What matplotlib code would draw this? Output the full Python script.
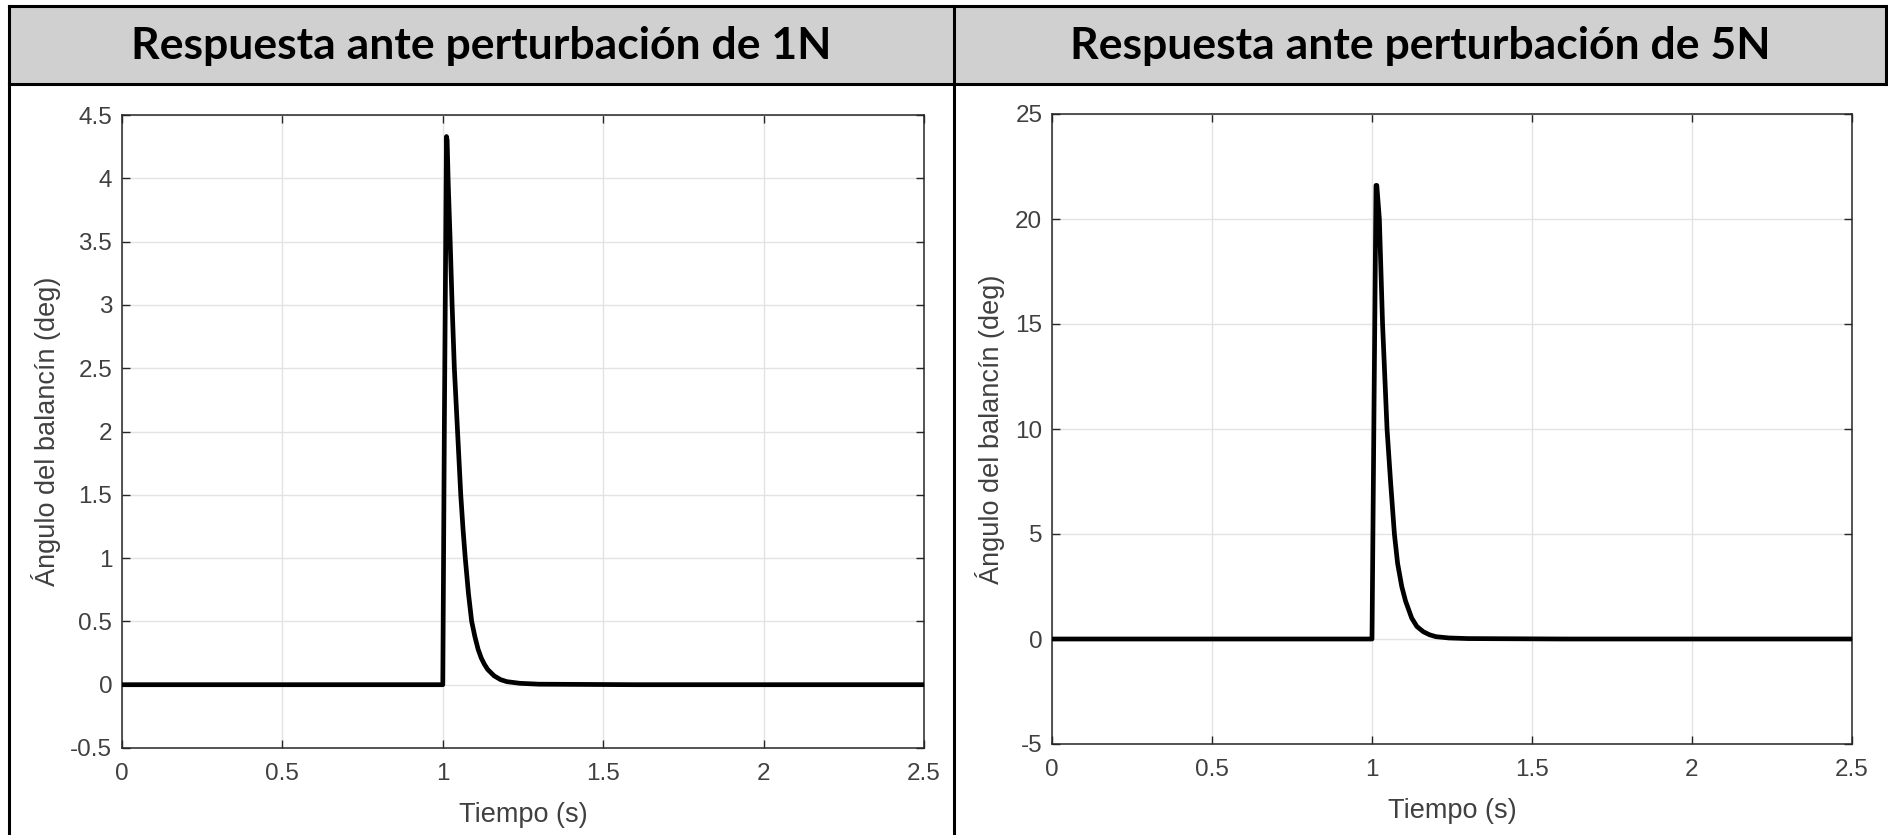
import matplotlib.pyplot as plt
from matplotlib.patches import Rectangle
from matplotlib.lines import Line2D

# titles / labels
titles = ["Respuesta ante perturbación de 1N", "Respuesta ante perturbación de 5N"]
xlabel = "Tiempo (s)"
ylabel = "Ángulo del balancín (deg)"

# 1N response
t_1n = [0, 1.000, 1.005, 1.0115, 1.0135, 1.017, 1.023, 1.029, 1.036, 1.046, 1.056,
        1.063, 1.070, 1.080, 1.090, 1.100, 1.110, 1.120, 1.130, 1.140, 1.160,
        1.180, 1.200, 1.240, 1.300, 1.600, 2.000, 2.500]
y_1n = [0, 0, 2.1, 4.33, 4.3, 3.95, 3.5, 3.0, 2.5, 2.0, 1.5,
        1.23, 1.0, 0.72, 0.5, 0.38, 0.28, 0.21, 0.16, 0.12, 0.07,
        0.04, 0.024, 0.011, 0.004, 0, 0, 0]

# 5N response
t_5n = [0, 1.000, 1.006, 1.0125, 1.0150, 1.018, 1.023, 1.028, 1.033, 1.040, 1.047,
        1.058, 1.070, 1.080, 1.093, 1.105, 1.124, 1.140, 1.160, 1.180, 1.200,
        1.240, 1.300, 1.600, 2.000, 2.500]
y_5n = [0, 0, 10.5, 21.6, 21.6, 21.0, 20.0, 17.5, 15.0, 12.5, 10.0,
        7.5, 5.0, 3.6, 2.5, 1.8, 1.0, 0.6, 0.35, 0.2, 0.11,
        0.05, 0.02, 0, 0, 0]

xticks = [0, 0.5, 1, 1.5, 2, 2.5]
yticks_1n = [-0.5, 0, 0.5, 1, 1.5, 2, 2.5, 3, 3.5, 4, 4.5]
yticks_5n = [-5, 0, 5, 10, 15, 20, 25]

W, H = 1888, 835
fig = plt.figure(figsize=(W / 100, H / 100), dpi=100)
fig.patch.set_facecolor("white")

# header band + table borders
def fx(px):
    return px / W

def fy(py):
    return 1 - py / H

fig.patches.append(Rectangle((fx(9), fy(84)), fx(1886) - fx(9), fy(6) - fy(84),
                             transform=fig.transFigure, facecolor="#d0d0d0",
                             edgecolor="none", zorder=0))
lw_b = 2.2
for (x0, y0, x1, y1) in [(9, 6, 1888, 6), (9, 84, 1888, 84), (9, 6, 9, 835),
                         (954, 6, 954, 835), (1886, 6, 1886, 84)]:
    fig.add_artist(Line2D([fx(x0), fx(x1)], [fy(y0), fy(y1)], color="black",
                          lw=lw_b, transform=fig.transFigure))

fig.text(fx(481), fy(46), titles[0], ha="center", va="center",
         fontsize=32, fontweight="bold", family="Lato")
fig.text(fx(1420), fy(46), titles[1], ha="center", va="center",
         fontsize=32, fontweight="bold", family="Lato")

axcol = "#262626"
panels = [
    ([fx(122), fy(748), fx(924) - fx(122), fy(115) - fy(748)], t_1n, y_1n, yticks_1n, (-0.5, 4.5)),
    ([fx(1052), fy(744), fx(1852) - fx(1052), fy(114) - fy(744)], t_5n, y_5n, yticks_5n, (-5, 25)),
]
for rect, t, y, yt, ylim in panels:
    ax = fig.add_axes(rect)
    ax.plot(t, y, color="black", lw=3.4, solid_joinstyle="round", zorder=3)
    ax.set_xlim(0, 2.5)
    ax.set_ylim(*ylim)
    ax.set_xticks(xticks)
    ax.set_xticklabels(["0", "0.5", "1", "1.5", "2", "2.5"])
    ax.set_yticks(yt)
    ax.set_yticklabels([f"{v:g}" for v in yt])
    ax.grid(True, color="#e3e3e3", lw=1.0)
    ax.set_axisbelow(True)
    for s in ax.spines.values():
        s.set_color(axcol)
        s.set_linewidth(1.1)
    ax.tick_params(direction="in", length=6, width=1.0, color=axcol,
                   top=True, right=True, labelsize=17.5, labelcolor="#404040", pad=7)
    ax.tick_params(axis="x", pad=11)
    for lab in ax.get_xticklabels() + ax.get_yticklabels():
        lab.set_family("Liberation Sans")
    ax.set_xlabel(xlabel, fontsize=19.5, color="#404040", family="Liberation Sans", labelpad=12)
    ax.set_ylabel(ylabel, fontsize=19.5, color="#404040", family="Liberation Sans", labelpad=7)

fig.savefig("out.png", dpi=100)
